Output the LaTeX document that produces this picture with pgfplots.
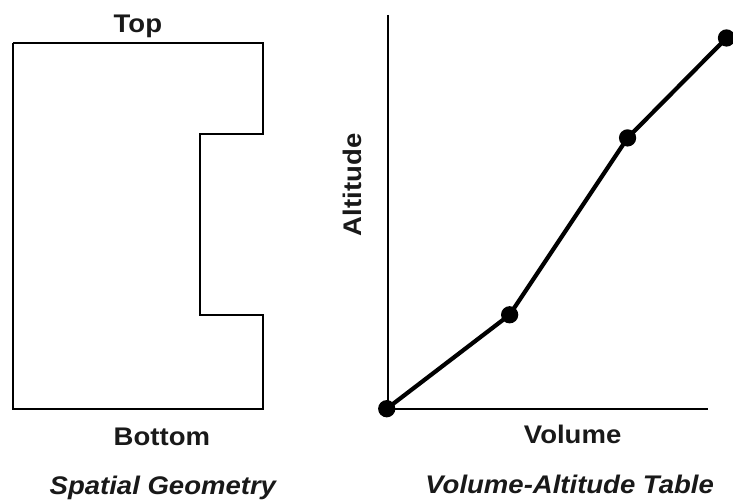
\documentclass[border=0pt]{standalone}
\usepackage{pgfplots}
\pgfplotsset{compat=1.18}
\usepackage{graphicx}
\usepackage{fontspec}
\setmainfont{Liberation Sans}
\tikzset{lbl/.style={font=\fontsize{25.5}{30}\selectfont\bfseries, text=black!90, inner sep=0pt}}
\newcommand{\wide}[1]{\scalebox{1.08}[1]{#1}}
\begin{document}
\begin{tikzpicture}[x=1pt,y=1pt]
\begin{axis}[
  width=733pt, height=503pt, scale only axis,
  xmin=0, xmax=733, ymin=0, ymax=503,
  hide axis, clip=false,
]
\path (axis cs:0,0) rectangle (axis cs:733,503);
% Spatial geometry outline
\addplot[black, line width=1.6pt, mark=none] coordinates {
  (13,460) (263,460) (263,369) (200,369) (200,188) (263,188) (263,94) (13,94) (13,460)
};
% Axes of the volume-altitude table
\addplot[black, line width=1.7pt, mark=none] coordinates {(388,488) (388,94) (708,94)};
% Volume-altitude curve
\addplot[black, line width=4.2pt, mark=*, mark size=6.5pt] coordinates {
  (387,94) (510,188) (628,365) (727,465)
};
\node[lbl] at (axis cs:138,477) {\wide{Top}};
\node[lbl] at (axis cs:162,66) {\wide{Bottom}};
\node[lbl] at (axis cs:163,15) {\wide{\itshape Spatial Geometry}};
\node[lbl,rotate=90] at (axis cs:353,318) {\wide{Altitude}};
\node[lbl] at (axis cs:573,68) {\wide{Volume}};
\node[lbl] at (axis cs:570,18) {\wide{\itshape Volume-Altitude Table}};
\end{axis}
\end{tikzpicture}
\end{document}
